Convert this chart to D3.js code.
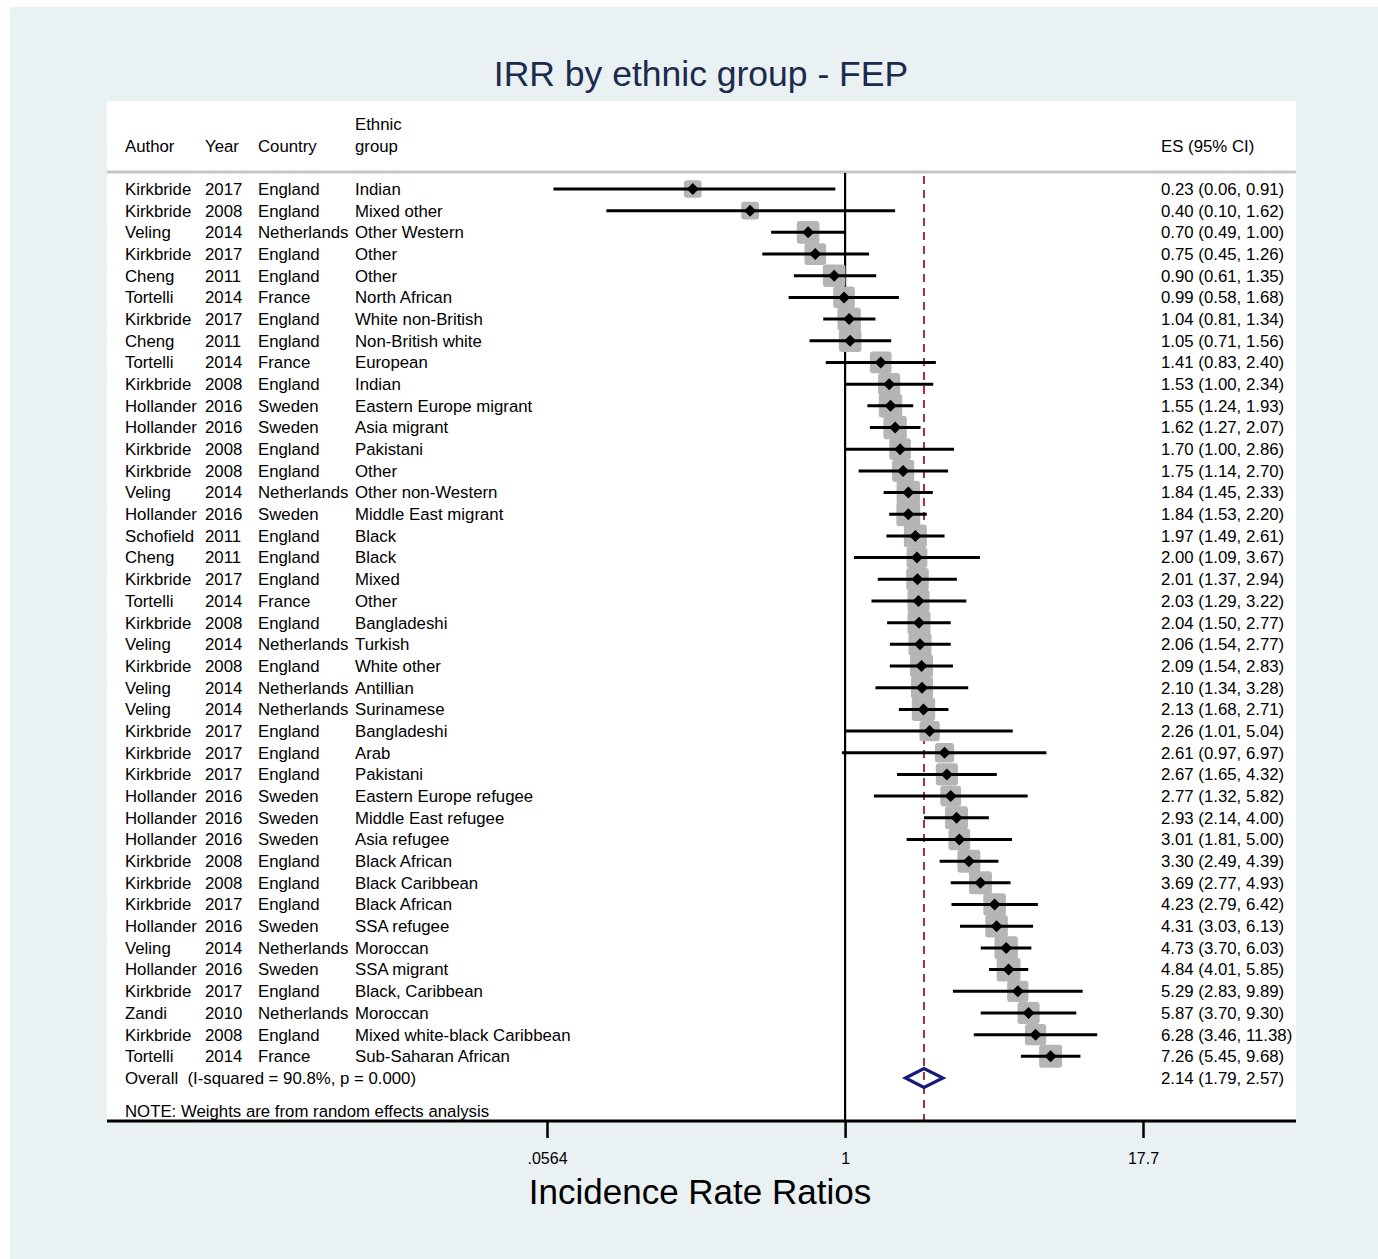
<!DOCTYPE html>
<html>
<head>
<meta charset="utf-8">
<script src="https://cdn.jsdelivr.net/npm/d3@7"></script>
<style>
  html, body { margin: 0; padding: 0; background: #ffffff; }
  svg { display: block; }
  text { font-family: "Liberation Sans", Arial, sans-serif; }
</style>
</head>
<body>
<svg id="chart" width="1378" height="1259"></svg>
<script>
// ---------------- DATA ----------------
const authors = ["Kirkbride","Kirkbride","Veling","Kirkbride","Cheng","Tortelli","Kirkbride","Cheng","Tortelli","Kirkbride",
  "Hollander","Hollander","Kirkbride","Kirkbride","Veling","Hollander","Schofield","Cheng","Kirkbride","Tortelli",
  "Kirkbride","Veling","Kirkbride","Veling","Veling","Kirkbride","Kirkbride","Kirkbride","Hollander","Hollander",
  "Hollander","Kirkbride","Kirkbride","Kirkbride","Hollander","Veling","Hollander","Kirkbride","Zandi","Kirkbride","Tortelli"];
const years = ["2017","2008","2014","2017","2011","2014","2017","2011","2014","2008",
  "2016","2016","2008","2008","2014","2016","2011","2011","2017","2014",
  "2008","2014","2008","2014","2014","2017","2017","2017","2016","2016",
  "2016","2008","2008","2017","2016","2014","2016","2017","2010","2008","2014"];
const countries = ["England","England","Netherlands","England","England","France","England","England","France","England",
  "Sweden","Sweden","England","England","Netherlands","Sweden","England","England","England","France",
  "England","Netherlands","England","Netherlands","Netherlands","England","England","England","Sweden","Sweden",
  "Sweden","England","England","England","Sweden","Netherlands","Sweden","England","Netherlands","England","France"];
const groups = ["Indian","Mixed other","Other Western","Other","Other","North African","White non-British","Non-British white","European","Indian",
  "Eastern Europe migrant","Asia migrant","Pakistani","Other","Other non-Western","Middle East migrant","Black","Black","Mixed","Other",
  "Bangladeshi","Turkish","White other","Antillian","Surinamese","Bangladeshi","Arab","Pakistani","Eastern Europe refugee","Middle East refugee",
  "Asia refugee","Black African","Black Caribbean","Black African","SSA refugee","Moroccan","SSA migrant","Black, Caribbean","Moroccan","Mixed white-black Caribbean","Sub-Saharan African"];
const es = [0.23,0.40,0.70,0.75,0.90,0.99,1.04,1.05,1.41,1.53,
  1.55,1.62,1.70,1.75,1.84,1.84,1.97,2.00,2.01,2.03,
  2.04,2.06,2.09,2.10,2.13,2.26,2.61,2.67,2.77,2.93,
  3.01,3.30,3.69,4.23,4.31,4.73,4.84,5.29,5.87,6.28,7.26];
const ciLow = [0.06,0.10,0.49,0.45,0.61,0.58,0.81,0.71,0.83,1.00,
  1.24,1.27,1.00,1.14,1.45,1.53,1.49,1.09,1.37,1.29,
  1.50,1.54,1.54,1.34,1.68,1.01,0.97,1.65,1.32,2.14,
  1.81,2.49,2.77,2.79,3.03,3.70,4.01,2.83,3.70,3.46,5.45];
const ciHigh = [0.91,1.62,1.00,1.26,1.35,1.68,1.34,1.56,2.40,2.34,
  1.93,2.07,2.86,2.70,2.33,2.20,2.61,3.67,2.94,3.22,
  2.77,2.77,2.83,3.28,2.71,5.04,6.97,4.32,5.82,4.00,
  5.00,4.39,4.93,6.42,6.13,6.03,5.85,9.89,9.30,11.38,9.68];
// estimated random-effects weights (%) read from the square sizes
const weights = [1.6,1.6,2.6,2.4,2.6,2.4,2.8,2.6,2.4,2.5,
  2.8,2.8,2.4,2.5,2.8,2.9,2.7,2.2,2.6,2.5,
  2.7,2.7,2.7,2.5,2.8,2.1,1.9,2.5,2.2,2.7,
  2.4,2.7,2.7,2.6,2.6,2.8,2.9,2.3,2.5,2.3,2.7];
const overall = {es: 2.14, lo: 1.79, hi: 2.57, i2: "90.8%", p: "0.000"};
const tickValues = [0.0564, 1, 17.7];
const tickLabels = [".0564", "1", "17.7"];
const titleText = "IRR by ethnic group - FEP";
const xTitle = "Incidence Rate Ratios";
const noteText = "NOTE: Weights are from random effects analysis";

// ---------------- LAYOUT ----------------
const svg = d3.select("#chart");
const W = 1378, H = 1259;
const plot = {x0: 107, x1: 1296, y0: 101, y1: 1121};
const fs = 16.8;

svg.append("rect").attr("x", 10).attr("y", 7).attr("width", W - 10).attr("height", H - 7).attr("fill", "#e9f1f3");
svg.append("rect").attr("x", plot.x0).attr("y", plot.y0).attr("width", plot.x1 - plot.x0).attr("height", plot.y1 - plot.y0).attr("fill", "#ffffff");

const x = d3.scaleLog().domain([0.0564, 17.7]).range([547, 1143]);
const n = es.length;
const y = d3.scaleLinear().domain([0, n]).range([189, 1078]);

// Title
svg.append("text").attr("x", 701).attr("y", 74).attr("dy", "0.35em")
  .attr("text-anchor", "middle").attr("font-size", 35.5).attr("fill", "#1c2a4e").text(titleText);

// Header
const cols = {author: 125, year: 205, country: 258, group: 355, es: 1161};
const hdr = svg.append("g").attr("font-size", fs).attr("fill", "#000");
[["Author", cols.author, 146], ["Year", cols.year, 146], ["Country", cols.country, 146],
 ["Ethnic", cols.group, 124], ["group", cols.group, 146], ["ES (95% CI)", cols.es, 146]]
  .forEach(([t, xx, yy]) => hdr.append("text").attr("x", xx).attr("y", yy).attr("dy", "0.35em").text(t));

// separator
svg.append("line").attr("x1", plot.x0).attr("x2", plot.x1).attr("y1", 172).attr("y2", 172)
  .attr("stroke", "#c6c6c6").attr("stroke-width", 3);

// reference lines
svg.append("line").attr("x1", x(1)).attr("x2", x(1)).attr("y1", 173).attr("y2", plot.y1)
  .attr("stroke", "#000").attr("stroke-width", 2.2);
svg.append("line").attr("x1", x(overall.es)).attr("x2", x(overall.es)).attr("y1", 176).attr("y2", plot.y1)
  .attr("stroke", "#a3303a").attr("stroke-width", 2).attr("stroke-dasharray", "8,6");

// study rows
const rows = d3.range(n);
const g = svg.append("g");
g.selectAll("rect.w").data(rows).join("rect").attr("class", "w")
  .attr("x", i => x(es[i]) - 14 * Math.sqrt(weights[i]) / 2)
  .attr("y", i => y(i) - 14 * Math.sqrt(weights[i]) / 2)
  .attr("width", i => 14 * Math.sqrt(weights[i]))
  .attr("height", i => 14 * Math.sqrt(weights[i]))
  .attr("rx", 3).attr("fill", "#b5b5b5");
g.selectAll("line.ci").data(rows).join("line").attr("class", "ci")
  .attr("x1", i => x(ciLow[i])).attr("x2", i => x(ciHigh[i]))
  .attr("y1", i => y(i)).attr("y2", i => y(i))
  .attr("stroke", "#000").attr("stroke-width", 3);
g.selectAll("path.pt").data(rows).join("path").attr("class", "pt")
  .attr("d", i => { const cx = x(es[i]), cy = y(i), r = 6;
    return `M${cx - r},${cy}L${cx},${cy - r}L${cx + r},${cy}L${cx},${cy + r}Z`; })
  .attr("fill", "#000");

// row texts
const tg = svg.append("g").attr("font-size", fs).attr("fill", "#000");
rows.forEach(i => {
  const yy = y(i);
  tg.append("text").attr("x", cols.author).attr("y", yy).attr("dy", "0.35em").text(authors[i]);
  tg.append("text").attr("x", cols.year).attr("y", yy).attr("dy", "0.35em").text(years[i]);
  tg.append("text").attr("x", cols.country).attr("y", yy).attr("dy", "0.35em").text(countries[i]);
  tg.append("text").attr("x", cols.group).attr("y", yy).attr("dy", "0.35em").text(groups[i]);
  tg.append("text").attr("x", cols.es).attr("y", yy).attr("dy", "0.35em")
    .text(`${es[i].toFixed(2)} (${ciLow[i].toFixed(2)}, ${ciHigh[i].toFixed(2)})`);
});

// overall
const oy = y(n);
tg.append("text").attr("x", cols.author).attr("y", oy).attr("dy", "0.35em")
  .attr("xml:space", "preserve")
  .text(`Overall  (I-squared = ${overall.i2}, p = ${overall.p})`);
tg.append("text").attr("x", cols.es).attr("y", oy).attr("dy", "0.35em")
  .text(`${overall.es.toFixed(2)} (${overall.lo.toFixed(2)}, ${overall.hi.toFixed(2)})`);
svg.append("path")
  .attr("d", `M${x(overall.lo)},${oy}L${x(overall.es)},${oy - 9.5}L${x(overall.hi)},${oy}L${x(overall.es)},${oy + 9.5}Z`)
  .attr("fill", "none").attr("stroke", "#161a7a").attr("stroke-width", 3.2);

// note
tg.append("text").attr("x", cols.author).attr("y", 1111).attr("dy", "0.35em").text(noteText);

// axis
const axis = d3.axisBottom(x).tickValues(tickValues)
  .tickFormat((d, i) => tickLabels[i]).tickSize(17).tickPadding(15);
const ax = svg.append("g").attr("transform", `translate(0,${plot.y1})`).call(axis);
ax.select(".domain").remove();
ax.selectAll(".tick line").attr("stroke", "#000").attr("stroke-width", 2.5);
ax.selectAll(".tick text").attr("font-size", 16).attr("fill", "#000")
  .attr("font-family", "Liberation Sans, Arial, sans-serif");
svg.append("line").attr("x1", plot.x0).attr("x2", plot.x1).attr("y1", plot.y1).attr("y2", plot.y1)
  .attr("stroke", "#000").attr("stroke-width", 3);

// x title
svg.append("text").attr("x", 700).attr("y", 1192).attr("dy", "0.35em")
  .attr("text-anchor", "middle").attr("font-size", 35).attr("fill", "#000").text(xTitle);
</script>
</body>
</html>
